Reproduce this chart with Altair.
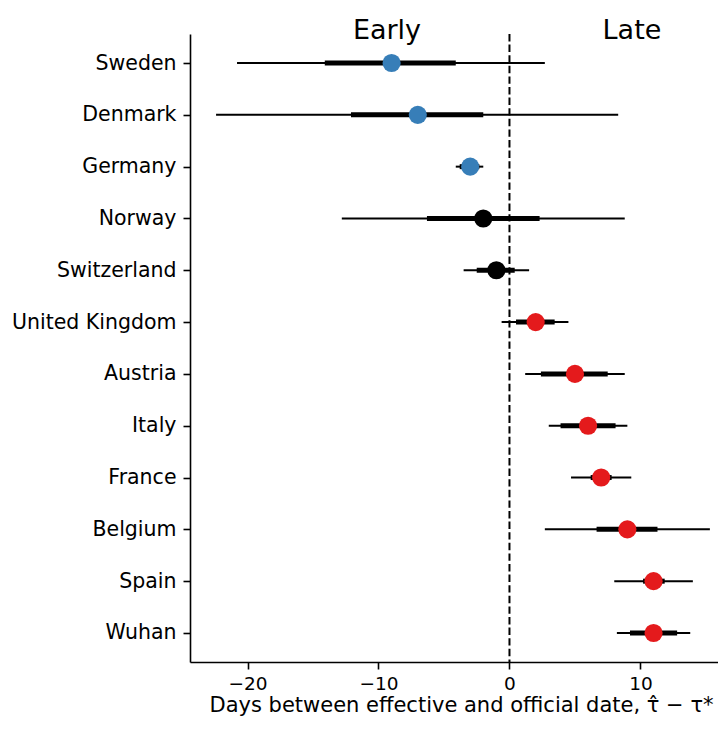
import altair as alt
import pandas as pd

countries = ["Sweden", "Denmark", "Germany", "Norway", "Switzerland", "United Kingdom",
             "Austria", "Italy", "France", "Belgium", "Spain", "Wuhan"]
estimate = [-9, -7, -3, -2, -1, 2, 5, 6, 7, 9, 11, 11]
lo_outer = [-20.8, -22.4, -4.1, -12.8, -3.5, -0.6, 1.2, 3.0, 4.7, 2.7, 8.0, 8.2]
hi_outer = [2.7, 8.3, -2.0, 8.8, 1.5, 4.5, 8.8, 9.0, 9.3, 15.3, 14.0, 13.8]
lo_inner = [-14.1, -12.1, -3.8, -6.3, -2.5, 0.5, 2.4, 3.9, 6.2, 6.65, 10.2, 9.2]
hi_inner = [-4.1, -2.0, -2.3, 2.3, 0.4, 3.45, 7.5, 8.1, 7.8, 11.3, 11.85, 12.8]
group = ["early", "early", "early", "none", "none", "late",
         "late", "late", "late", "late", "late", "late"]

side_labels = ["Early", "Late"]
side_pos = [-9.35, 9.35]

df = pd.DataFrame({
    "country": countries, "est": estimate,
    "lo95": lo_outer, "hi95": hi_outer,
    "lo68": lo_inner, "hi68": hi_inner,
    "group": group,
})

xscale = alt.Scale(domain=[-24.39, 15.92], nice=False, zero=False)
xaxis = alt.Axis(values=[-20, -10, 0, 10], title="Days between effective and official date, τ\u0302 − τ*",
                 titleFontSize=21, titleFontWeight="normal", titleColor="black", titlePadding=2,
                 titleX=271, labelPadding=5, labelFontSize=18.5)
y = alt.Y("country:N", sort=countries, scale=alt.Scale(type="point", padding=0.56),
          axis=alt.Axis(title=None, labelPadding=7, labelFontSize=20.5))

base = alt.Chart(df)

thin = base.mark_rule(strokeWidth=2, color="black").encode(
    x=alt.X("lo95:Q", scale=xscale, axis=xaxis), x2="hi95:Q", y=y)
thick = base.mark_rule(strokeWidth=5, color="black").encode(
    x=alt.X("lo68:Q", scale=xscale), x2="hi68:Q", y=y)
zero = alt.Chart(pd.DataFrame({"z": [0]})).mark_rule(
    strokeDash=[7.4, 3.2], strokeWidth=2, color="black").encode(x=alt.X("z:Q", scale=xscale))
points = base.mark_circle(size=330, opacity=1).encode(
    x=alt.X("est:Q", scale=xscale), y=y,
    color=alt.Color("group:N", scale=alt.Scale(domain=["early", "none", "late"],
                                              range=["#377eb8", "#000000", "#e41a1c"]),
                    legend=None))
side = alt.Chart(pd.DataFrame({"t": side_labels, "x": side_pos})).mark_text(
    fontSize=27, baseline="alphabetic", align="center", color="black").encode(
    x=alt.X("x:Q", scale=xscale), y=alt.value(5), text="t:N")

chart = alt.layer(thin, thick, zero, points, side).properties(
    width=528, height=628,
    autosize=alt.AutoSizeParams(type="none"),
    padding={"left": 182, "top": 26, "right": 0, "bottom": 59},
).configure(font="DejaVu Sans").configure_view(stroke=None).configure_axis(
    grid=False, domainColor="black", domainWidth=1.6, tickColor="black", tickWidth=1.6,
    tickSize=7, labelColor="black", labelFont="DejaVu Sans",
    titleFont="DejaVu Sans")

chart.save("out.html", embed_options={"renderer": "svg", "actions": False})
